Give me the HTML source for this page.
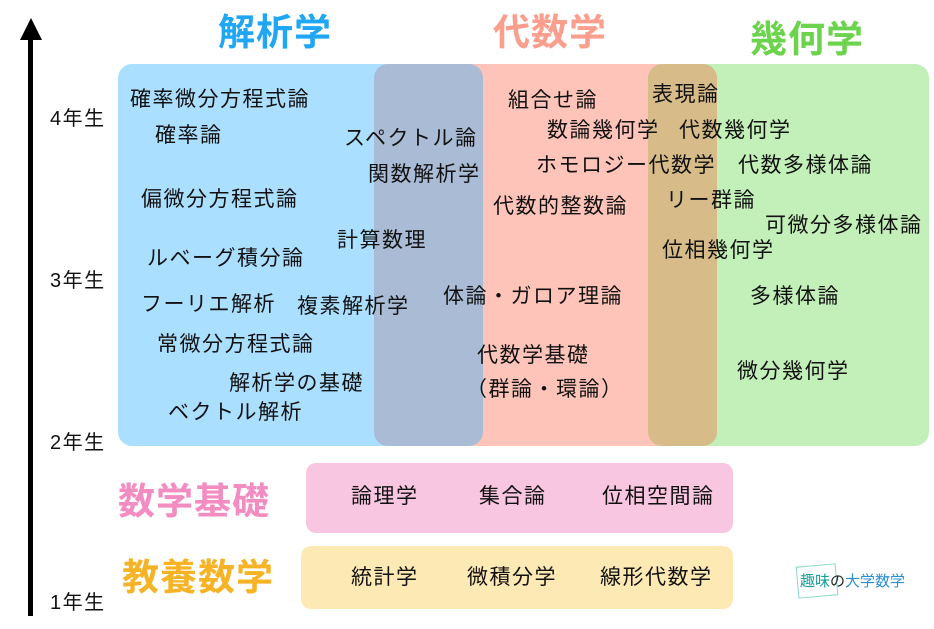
<!DOCTYPE html>
<html><head><meta charset="utf-8"><style>
body{margin:0;width:934px;height:629px;background:#fff;position:relative;overflow:hidden;font-family:"Liberation Sans","Noto Sans CJK JP",sans-serif}
div{position:absolute}
.t{font-size:21px;letter-spacing:1.5px;color:#111;white-space:nowrap;line-height:22px}
.h{font-size:37px;letter-spacing:1px;font-weight:bold;white-space:nowrap;line-height:40px}
.y{font-size:20px;letter-spacing:1.5px;color:#111;line-height:22px}
</style></head><body>
<div style="left:118px;top:64px;width:300px;height:382px;background:#abdfff;border-radius:14px 0 0 14px"></div>
<div style="left:460px;top:64px;width:200px;height:382px;background:#ffc4b9"></div>
<div style="left:374px;top:64px;width:109px;height:382px;background:#aabcd5;border-radius:14px"></div>
<div style="left:700px;top:64px;width:229px;height:382px;background:#c3efb8;border-radius:0 14px 14px 0"></div>
<div style="left:648px;top:64px;width:69px;height:382px;background:#d7bc8a;border-radius:14px"></div>
<div style="left:306px;top:463px;width:427px;height:70px;background:#f8c6e1;border-radius:10px"></div>
<div style="left:301px;top:546px;width:432px;height:63px;background:#fde9b4;border-radius:10px"></div>
<div style="left:28px;top:36px;width:5px;height:580px;background:#000"></div>
<div style="left:20px;top:18px;width:0;height:0;border-left:11px solid transparent;border-right:11px solid transparent;border-bottom:22px solid #000"></div>
<div class="y" style="left:50px;top:108px">4年生</div>
<div class="y" style="left:50px;top:270px">3年生</div>
<div class="y" style="left:50px;top:432px">2年生</div>
<div class="y" style="left:50px;top:592px">1年生</div>
<div class="h" style="left:218px;top:13px;color:#1fa6f5">解析学</div>
<div class="h" style="left:493px;top:13px;color:#fa9f8d">代数学</div>
<div class="h" style="left:750px;top:20px;color:#6bd34c">幾何学</div>
<div class="h" style="left:118px;top:482px;color:#f38cc1">数学基礎</div>
<div class="h" style="left:122px;top:558px;color:#f5b325">教養数学</div>
<div class="t" style="left:130px;top:89px">確率微分方程式論</div>
<div class="t" style="left:155px;top:125px">確率論</div>
<div class="t" style="left:141px;top:189px">偏微分方程式論</div>
<div class="t" style="left:147px;top:248px">ルベーグ積分論</div>
<div class="t" style="left:141px;top:294px">フーリエ解析</div>
<div class="t" style="left:297px;top:296px">複素解析学</div>
<div class="t" style="left:157px;top:334px">常微分方程式論</div>
<div class="t" style="left:229px;top:373px">解析学の基礎</div>
<div class="t" style="left:168px;top:402px">ベクトル解析</div>
<div class="t" style="left:344px;top:128px">スペクトル論</div>
<div class="t" style="left:368px;top:164px">関数解析学</div>
<div class="t" style="left:337px;top:230px">計算数理</div>
<div class="t" style="left:508px;top:90px">組合せ論</div>
<div class="t" style="left:547px;top:120px">数論幾何学</div>
<div class="t" style="left:536px;top:155px">ホモロジー代数学</div>
<div class="t" style="left:493px;top:196px">代数的整数論</div>
<div class="t" style="left:443px;top:286px">体論・ガロア理論</div>
<div class="t" style="left:477px;top:345px">代数学基礎</div>
<div class="t" style="left:466px;top:379px">（群論・環論）</div>
<div class="t" style="left:652px;top:84px">表現論</div>
<div class="t" style="left:679px;top:120px">代数幾何学</div>
<div class="t" style="left:738px;top:155px">代数多様体論</div>
<div class="t" style="left:666px;top:190px">リー群論</div>
<div class="t" style="left:765px;top:215px">可微分多様体論</div>
<div class="t" style="left:662px;top:240px">位相幾何学</div>
<div class="t" style="left:750px;top:286px">多様体論</div>
<div class="t" style="left:737px;top:361px">微分幾何学</div>
<div class="t" style="left:351px;top:486px">論理学</div>
<div class="t" style="left:479px;top:486px">集合論</div>
<div class="t" style="left:602px;top:486px">位相空間論</div>
<div class="t" style="left:351px;top:567px">統計学</div>
<div class="t" style="left:467px;top:567px">微積分学</div>
<div class="t" style="left:600px;top:567px">線形代数学</div>
<div style="left:797px;top:565px;width:38px;height:30px;border:1px solid #8fd6cc;transform:rotate(-5deg)"></div>
<div style="left:800px;top:570px;font-size:15px;color:#1a9e9a;white-space:nowrap">趣味<span style="color:#222">の</span><span style="color:#2a8fd0">大学数学</span></div>
</body></html>
